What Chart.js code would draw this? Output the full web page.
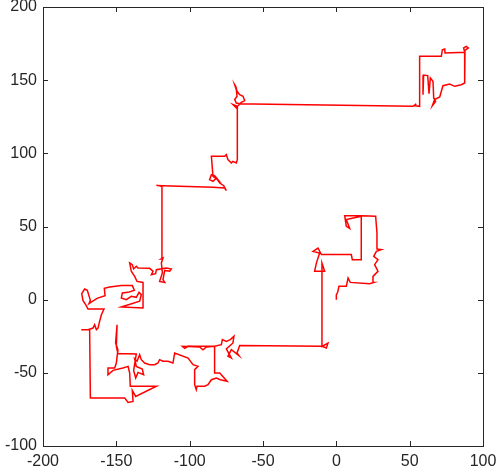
<!DOCTYPE html>
<html>
<head>
<meta charset="utf-8">
<script src="https://cdn.jsdelivr.net/npm/chart.js@4.4.0/dist/chart.umd.min.js"></script>
<style>
  html, body { margin: 0; padding: 0; background: #fff; }
  #wrap { width: 498px; height: 474px; }
</style>
</head>
<body>
<div id="wrap"><canvas id="walk" width="498" height="474"></canvas></div>
<script>
// axis ticks
const xTicks = [-200, -150, -100, -50, 0, 50, 100];
const yTicks = [-100, -50, 0, 50, 100, 150, 200];

// walk ([x, y])
const rightCluster = [
  [0, 0], [0, 3.4], [0.9, 5], [1.8, 9.1], [6.8, 9.1], [8, 14.8], [9.5, 11.8],
  [22.7, 10.9], [25.5, 11.8], [25, 15.9], [28.4, 19.4], [26.1, 23.9], [28.4, 27.3],
  [25.5, 29.6], [27.3, 33], [30.7, 34.2], [27.3, 34.6], [27.7, 45.6], [26.8, 57],
  [17, 57.4], [5.7, 57.4], [6.8, 50.1], [9.1, 48.7], [6.8, 54.7], [17, 57],
  [17, 27.3], [10.9, 27.3], [10.2, 30.8], [-10.2, 30.8], [-12.5, 35.3], [-15.9, 33],
  [-11.4, 31.9], [-13.6, 25], [-14.8, 19.4], [-8, 19.4], [-9.8, 25], [-9.8, -31.9],
  [-5.7, -29.6], [-6.8, -33], [-9.8, -31.9]
];

const lowerRun = [
  [-65.9, -31.4], [-67.7, -36.4], [-66.4, -38.3], [-71.6, -34.2], [-73.9, -38.7],
  [-71.6, -39.9], [-75, -33.7], [-70.5, -29.6], [-69.8, -25], [-72.3, -27.3],
  [-75, -28.5], [-77.7, -27.3], [-78.4, -30.8], [-83, -31.9], [-88.6, -32.3],
  [-90.9, -34.2], [-93.2, -32.3], [-105, -31.9], [-103.4, -33.3], [-101.1, -31.9],
  [-83, -31.9], [-83, -50.1], [-79.5, -50.1], [-74.5, -55.8], [-79.1, -54.7],
  [-81.8, -53.5], [-85.2, -54.7], [-87.5, -58.1], [-89.8, -59.2], [-95, -59.2],
  [-95.5, -61.5], [-96.6, -58.1], [-96.6, -47.8], [-94.3, -45.6], [-97.7, -44.4],
  [-101.1, -39.9], [-110.2, -36.4], [-111.4, -43.3], [-114.8, -42.1], [-118.2, -42.1],
  [-120.5, -41], [-121.6, -43.3], [-123.9, -44.4], [-127.3, -44.4], [-130.7, -43.3]
];

const lowerLeft = [
  [-133, -41], [-134.1, -37.6], [-135.9, -42.1], [-137.5, -40.5], [-136.4, -45.6],
  [-132.3, -47.4], [-131.4, -51.3], [-135.2, -49.7], [-136.8, -53.5], [-138.2, -48.3],
  [-136.4, -37.1], [-143.2, -36.9], [-148.9, -36.9], [-150, -31.9], [-149.5, -17.1],
  [-150.5, -29.6], [-148.9, -34.2], [-150, -43.3], [-151.1, -46.7], [-155.7, -46.7],
  [-155.7, -51.3], [-152.3, -48.3], [-145.5, -46.7], [-142, -45.6], [-140.9, -50.1],
  [-140.5, -59.2], [-122.7, -59.2], [-136.8, -66.1], [-139.1, -62], [-138.6, -69.5],
  [-142, -70.2], [-144.3, -67.2], [-167.7, -67.2], [-168.2, -20.5], [-173.9, -20.5],
  [-169.3, -20.5], [-165.9, -19.4], [-164.8, -17.1], [-163.6, -20.5], [-162.5, -19.4],
  [-161.4, -14.8], [-160.2, -10.3]
];

const leftCluster = [
  [-158.4, -6.4], [-169.3, -6.4], [-170.9, -3.4], [-172.7, -0.7], [-173.6, 4.1],
  [-171.6, 7.3], [-169.8, 6.4], [-167.7, -0.5], [-168.6, -2.7], [-163.2, 0.9],
  [-157.7, 2.7], [-158.2, 7.7], [-154.5, 8.7], [-146.6, 9.6], [-139.1, 9.6],
  [-137.7, 6.4], [-142, 5], [-145.9, 4.6], [-146.6, 1.1], [-143.2, 0],
  [-139.8, 2.3], [-136.4, 1.6], [-134.5, 5], [-133, 3.4], [-134.1, -1.1],
  [-146.6, -5], [-131.4, -5.7], [-131.8, 11.8]
];

const climb = [
  [-135.9, 12.5], [-137.5, 15.9], [-139.8, 19.4], [-140.9, 25.1], [-139.1, 23.9],
  [-138.2, 21], [-136.4, 22.8], [-135.2, 21.6], [-127.3, 21.4], [-125, 19.4],
  [-126.1, 17.1], [-123.2, 17.8], [-122.7, 20.5], [-115.9, 21.6], [-112.5, 21],
  [-113.6, 19.4], [-117, 20], [-118.2, 13.7], [-117, 11.8], [-120.5, 12.5],
  [-118.6, 18.2], [-119.3, 25.1], [-118.2, 28.5], [-119.5, 27.8], [-118.9, 77.4],
  [-122.7, 78.1], [-118.2, 77.9], [-84.1, 76.8], [-76.1, 76.3], [-75, 74.5],
  [-76.8, 77.9], [-79.5, 79.7], [-81.8, 83.1], [-84.1, 80.9], [-86.4, 82],
  [-85.2, 85.4], [-83, 84.7], [-80.7, 82], [-84.1, 84.3], [-85.2, 98],
  [-76.1, 98], [-75, 99.1], [-73.9, 95.7], [-71.6, 93.4], [-70.5, 94.5],
  [-68.2, 93.4], [-67.5, 95.7], [-67.5, 132.1], [-70.5, 133.3], [-68.2, 131],
  [-67, 132.6], [-64.8, 134.9], [-62.5, 136], [-63.6, 139], [-65.9, 140.1],
  [-67.7, 142.4], [-68.6, 145.8], [-69.3, 146.9], [-68.2, 143.5], [-67.7, 139],
  [-69.3, 136.7], [-68.2, 134.4], [-65.9, 133.9], [-56.8, 133.7], [52.3, 132.1]
];

const upperRight = [
  [54.5, 133.9], [53.4, 132.6], [56.8, 132.1], [56.8, 166.3], [71.6, 166.3],
  [72.3, 170.8], [73.9, 171.3], [74.1, 168.6], [87.5, 169], [86.8, 172],
  [88.6, 173.1], [90, 172], [87.7, 170.4], [87.5, 148.1], [85.2, 146.9],
  [80.7, 145.8], [77.3, 147.4], [72.7, 146.2], [71.6, 142.4], [70.5, 138.5],
  [67, 136.7], [65.5, 132.6], [67.7, 135.5], [66.4, 137.8], [65.9, 149.2],
  [64.1, 151.5], [63.2, 140.8], [62.3, 153.1], [59.5, 153.5], [59.1, 140.1]
];

const walk = [...rightCluster, ...lowerRun, ...lowerLeft, ...leftCluster, ...climb, ...upperRight]
  .map(p => ({ x: p[0], y: p[1] }));

// box + inward ticks like the original figure
const frame = {
  id: 'frame',
  afterDraw(chart) {
    const { ctx, chartArea: a, scales } = chart;
    ctx.save();
    ctx.strokeStyle = '#262626';
    ctx.lineWidth = 1;
    ctx.strokeRect(Math.round(a.left) + 0.5, Math.round(a.top) + 0.5,
      Math.round(a.right - a.left), Math.round(a.bottom - a.top));
    const t = 5;
    ctx.beginPath();
    xTicks.forEach(v => {
      const px = Math.round(scales.x.getPixelForValue(v)) + 0.5;
      ctx.moveTo(px, a.bottom); ctx.lineTo(px, a.bottom - t);
      ctx.moveTo(px, a.top); ctx.lineTo(px, a.top + t);
    });
    yTicks.forEach(v => {
      const py = Math.round(scales.y.getPixelForValue(v)) + 0.5;
      ctx.moveTo(a.left, py); ctx.lineTo(a.left + t, py);
      ctx.moveTo(a.right, py); ctx.lineTo(a.right - t, py);
    });
    ctx.stroke();
    ctx.restore();
  }
};

const font = { family: 'Liberation Sans, Arial, sans-serif', size: 16 };

new Chart(document.getElementById('walk'), {
  type: 'scatter',
  data: {
    datasets: [{
      data: walk,
      showLine: true,
      borderColor: '#ff0000',
      borderWidth: 1.5,
      pointRadius: 0,
      tension: 0
    }]
  },
  options: {
    responsive: false,
    animation: false,
    layout: { padding: { top: 0, right: 0, left: 0, bottom: 0 } },
    plugins: { legend: { display: false }, tooltip: { enabled: false } },
    scales: {
      x: {
        min: -200, max: 100,
        afterBuildTicks: s => { s.ticks = xTicks.map(v => ({ value: v })); },
        afterFit: s => { s.height = 28; s.paddingRight = 15; },
        grid: { display: false, drawTicks: false },
        border: { display: false },
        ticks: { color: '#262626', font, padding: 6, maxRotation: 0 }
      },
      y: {
        min: -100, max: 200,
        afterBuildTicks: s => { s.ticks = yTicks.map(v => ({ value: v })); },
        afterFit: s => { s.width = 43; s.paddingTop = 7; },
        grid: { display: false, drawTicks: false },
        border: { display: false },
        ticks: { color: '#262626', font, padding: 6 }
      }
    }
  },
  plugins: [frame]
});
</script>
</body>
</html>
